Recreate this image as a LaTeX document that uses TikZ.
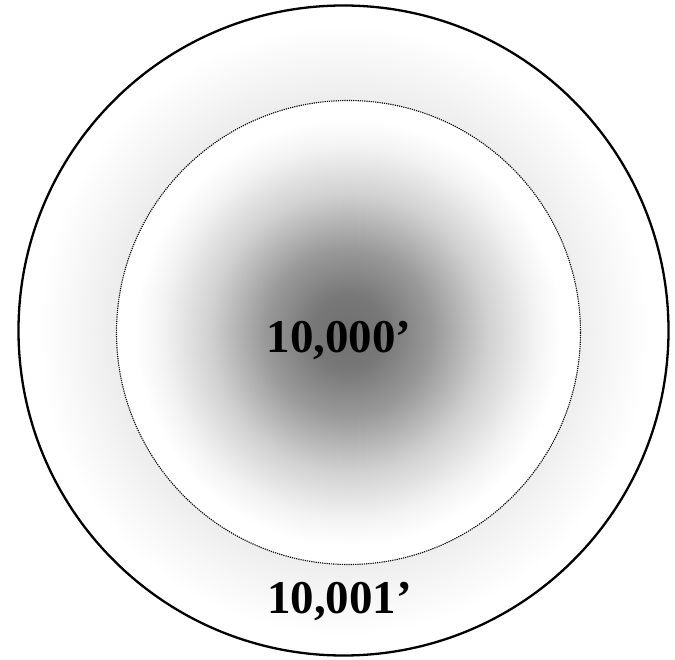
\documentclass[tikz,border=0pt]{standalone}
\usepackage{fontspec}
\setmainfont{Liberation Serif}
\pgfdeclareradialshading{innerglow}{\pgfpoint{0bp}{0bp}}{%
  color(0bp)=(black!56);
  color(4bp)=(black!53);
  color(9bp)=(black!40);
  color(15bp)=(black!18);
  color(20bp)=(black!5);
  color(23bp)=(white);
  color(50bp)=(white)}
\pgfdeclareradialshading{outerglow}{\pgfpoint{0bp}{0bp}}{%
  color(0bp)=(black!7);
  color(17.85bp)=(black!7);
  color(21bp)=(black!3);
  color(23.5bp)=(white);
  color(50bp)=(white)}
\begin{document}
\begin{tikzpicture}[x=1pt,y=1pt,
  outerring/.style={draw=black,line width=2.3pt},
  innerring/.style={draw=black,line width=1.1pt,dash pattern=on 1.2pt off 1pt},
  lbl/.style={font=\bfseries\fontsize{47}{47}\selectfont,inner sep=0pt,anchor=base}]
\useasboundingbox (0,0) rectangle (675,-660);
\shade[shading=outerglow] (343.5,-330.5) circle[radius=325];
\shade[shading=innerglow] (348.5,-332.5) circle[radius=232];
\node[outerring,circle,minimum size=650pt,inner sep=0pt] (outer) at (343.5,-330.5) {};
\node[innerring,circle,minimum size=464pt,inner sep=0pt] (inner) at (348.5,-332.5) {};
\node[lbl] (t1) at (339,-353) {10,000’};
\node[lbl] (t2) at (339.5,-613) {10,001’};
\end{tikzpicture}
\end{document}
